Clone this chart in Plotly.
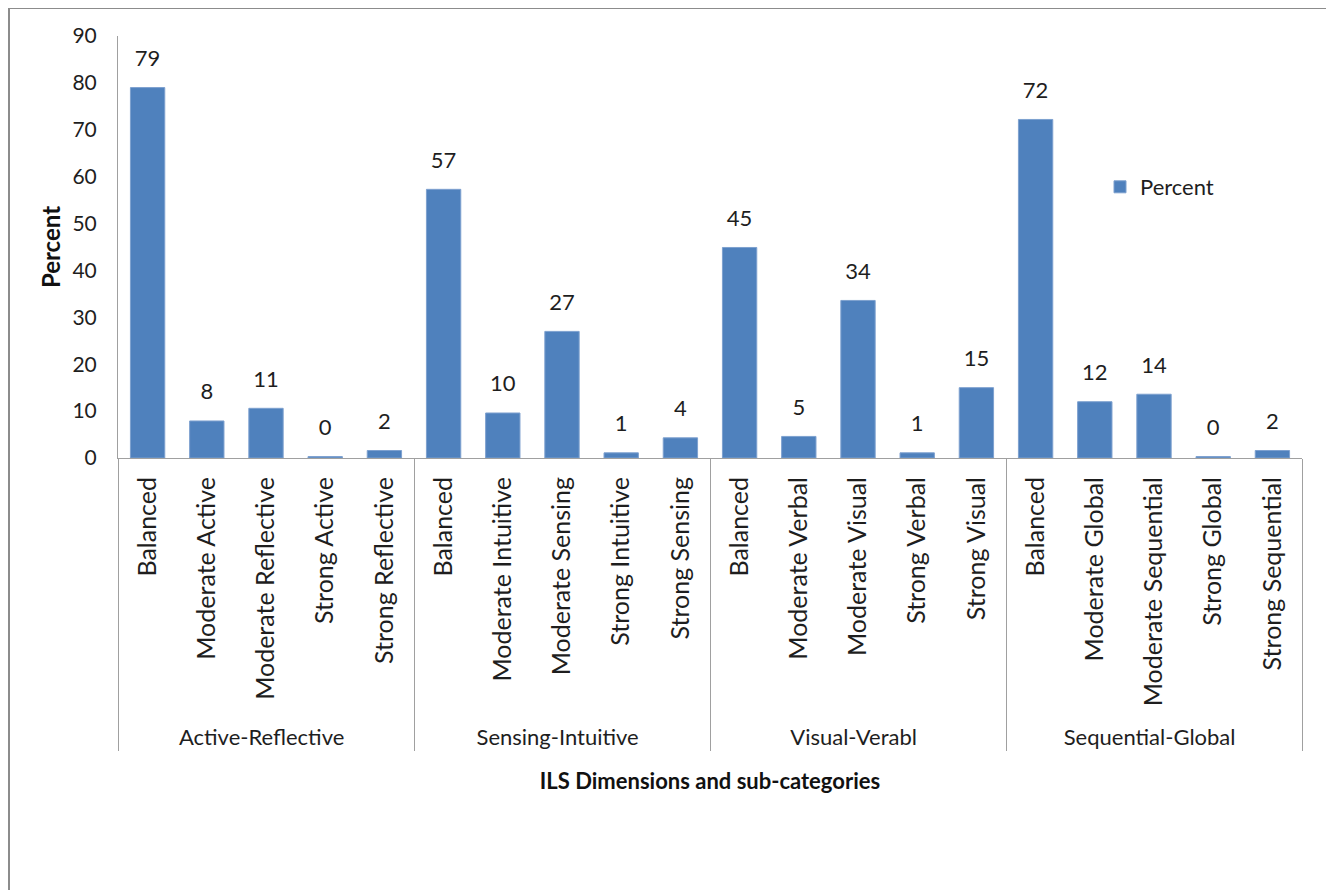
import plotly.graph_objects as go

groups = ["Active-Reflective"] * 5 + ["Sensing-Intuitive"] * 5 + ["Visual-Verabl"] * 5 + ["Sequential-Global"] * 5
subcats = [
    "Balanced", "Moderate Active", "Moderate Reflective", "Strong Active", "Strong Reflective",
    "Balanced", "Moderate Intuitive", "Moderate Sensing", "Strong Intuitive", "Strong Sensing",
    "Balanced", "Moderate Verbal", "Moderate Visual", "Strong Verbal", "Strong Visual",
    "Balanced", "Moderate Global", "Moderate Sequential", "Strong Global", "Strong Sequential",
]
values = [79.0, 7.9, 10.6, 0.3, 1.6,
          57.3, 9.6, 27.0, 1.1, 4.3,
          44.9, 4.6, 33.6, 1.1, 15.0,
          72.2, 12.0, 13.6, 0.3, 1.6]

FONT = "Lato"
BLUE = "#4F81BD"
AXC = "#A0A0A0"
TXT = "#1E1E1E"

# page body has an 8px margin; convert reference pixel coords to figure coords
OFF = 8
W, H = 1334 - OFF, 890 - OFF
PL, PR, PT, PB = 118 - OFF, 1302 - OFF, 36 - OFF, 458 - OFF
pw, ph = PR - PL, PB - PT

group_lbl = [f"<span style='font-size:22px'>{g}</span>" for g in groups]

fig = go.Figure()
fig.add_trace(go.Bar(
    x=[group_lbl, subcats], y=values, name="Percent",
    marker=dict(color=BLUE, line=dict(color="#7DA0CF", width=1)),
    hoverinfo="skip",
))
fig.add_trace(go.Scatter(
    x=[group_lbl, subcats], y=values, mode="markers+text",
    text=[f"{v:.0f}" for v in values], textposition="top center",
    textfont=dict(family=FONT, size=22, color=TXT),
    marker=dict(size=24, color="rgba(0,0,0,0)"),
    showlegend=False, hoverinfo="skip", cliponaxis=False,
))

fig.update_layout(
    width=W, height=H,
    margin=dict(l=PL, r=W - PR, t=PT, b=H - PB, pad=0, autoexpand=False),
    paper_bgcolor="white", plot_bgcolor="white",
    font=dict(family=FONT, size=22, color=TXT),
    bargap=0.42,
    showlegend=True,
    legend=dict(x=(1100 - OFF - PL) / pw, y=(PB - (187 - OFF)) / ph, xanchor="left", yanchor="middle",
                font=dict(family=FONT, size=22, color=TXT), bgcolor="rgba(0,0,0,0)"),
    xaxis=dict(
        type="multicategory", tickangle=-90, showline=True, linecolor=AXC, linewidth=1,
        showdividers=True, dividercolor=AXC, dividerwidth=1, ticks="",
        range=[-0.5, len(values) - 0.5], autorange=False,
        tickfont=dict(family=FONT, size=25, color=TXT),
        ticklabelstandoff=8,
        title=dict(text="<b>ILS Dimensions and sub-categories</b>",
                   font=dict(family=FONT, size=22, color="#111111"), standoff=24),
        showgrid=False,
    ),
    yaxis=dict(
        range=[0, 90], dtick=10, showline=True, linecolor=AXC, linewidth=1,
        showgrid=False, zeroline=False, ticks="",
        tickfont=dict(family=FONT, size=21, color=TXT),
        ticklabelstandoff=16,
        title=dict(text="<b>Percent</b>", font=dict(family=FONT, size=24, color="#111111"), standoff=5),
    ),
    shapes=[dict(type="rect", xref="paper", yref="paper",
                 x0=(1 - PL) / pw, x1=(1329 - OFF - PL) / pw,
                 y0=(PB - (H + 20)) / ph, y1=(PB - 0) / ph,
                 line=dict(color="#8C8C8C", width=2), fillcolor="rgba(0,0,0,0)", layer="below")],
)

fig.write_html("out.html")
